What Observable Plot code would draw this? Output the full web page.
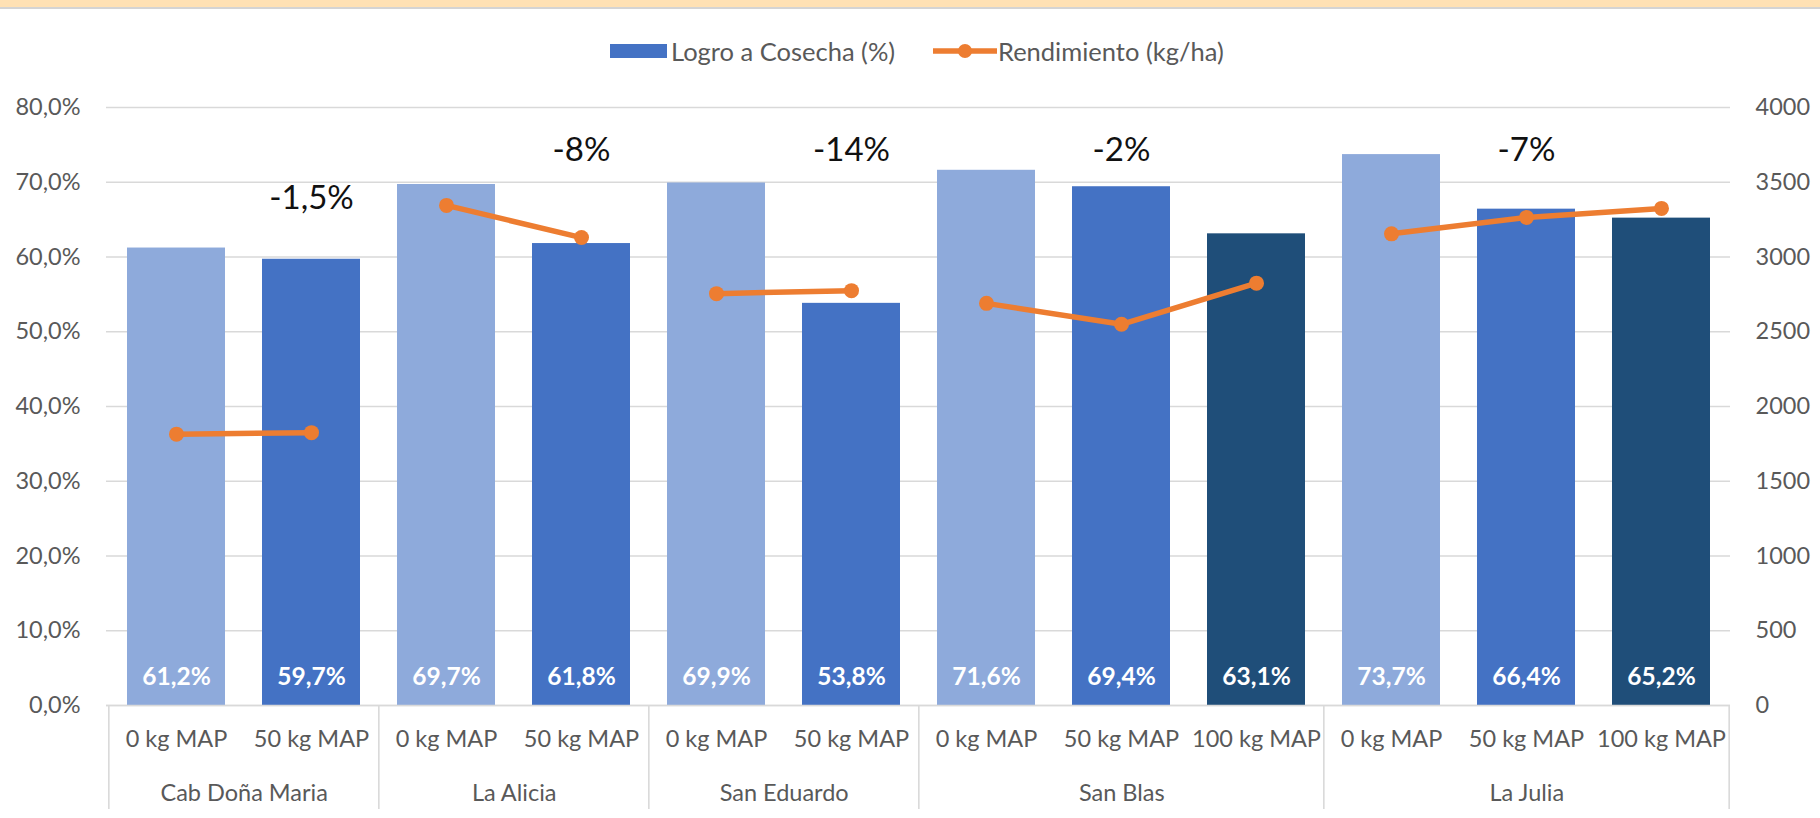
<!DOCTYPE html>
<html>
<head>
<meta charset="utf-8">
<script src="https://cdn.jsdelivr.net/npm/d3@7"></script>
<script src="https://cdn.jsdelivr.net/npm/@observablehq/plot@0.6"></script>
<style>
  body { margin: 0; background: #fff; font-family: Lato, sans-serif; width: 1820px; height: 818px; overflow: hidden; }
  #banner { height: 7px; background: #ffe1b4; border-bottom: 2px solid #d4d4d4; }
  #legend { position: relative; height: 61px; }
  .lg { position: absolute; font-size: 25.5px; color: #595959; line-height: 28px; white-space: nowrap; }
</style>
</head>
<body>
<div id="banner"></div>
<div id="legend">
  <div class="lg" style="left:610px; top:35px; width:57px; height:14px; background:#4472c4;"></div>
  <div class="lg" style="left:671px; top:28px;">Logro a Cosecha (%)</div>
  <svg class="lg" style="left:933px; top:30px;" width="64" height="24"><line x1="0" y1="12" x2="64" y2="12" stroke="#ed7d31" stroke-width="5.5"/><circle cx="32" cy="12" r="7" fill="#ed7d31"/></svg>
  <div class="lg" style="left:998px; top:28px;">Rendimiento (kg/ha)</div>
</div>
<div id="chart"></div>
<script>
// ---- data ----
const campo = ["Cab Doña Maria","Cab Doña Maria","La Alicia","La Alicia","San Eduardo","San Eduardo","San Blas","San Blas","San Blas","La Julia","La Julia","La Julia"];
const dosis = ["0 kg MAP","50 kg MAP","0 kg MAP","50 kg MAP","0 kg MAP","50 kg MAP","0 kg MAP","50 kg MAP","100 kg MAP","0 kg MAP","50 kg MAP","100 kg MAP"];
const logro = [61.2, 59.7, 69.7, 61.8, 69.9, 53.8, 71.6, 69.4, 63.1, 73.7, 66.4, 65.2];
const rendimiento = [1815, 1825, 3345, 3130, 2755, 2775, 2690, 2550, 2825, 3155, 3265, 3325];
const diferencias = ["-1,5%", "-8%", "-14%", "-2%", "-7%"];
const diferenciaPos = [1, 3, 5, 7, 10];            // category under each label
const diferenciaY = [67.8, 74.3, 74.3, 74.2, 74.2]; // height on the left (%) axis
const leftTicks = [0, 10, 20, 30, 40, 50, 60, 70, 80];
const rightTicks = [0, 500, 1000, 1500, 2000, 2500, 3000, 3500, 4000];
const dosisOrden = ["0 kg MAP", "50 kg MAP", "100 kg MAP"];
const colores = ["#8eaadb", "#4472c4", "#1f4e79"];

// ---- derived tables ----
const rows = logro.map((v, i) => ({i, campo: campo[i], dosis: dosis[i], logro: v, rend: rendimiento[i]}));
const ratio = rightTicks[rightTicks.length - 1] / leftTicks[leftTicks.length - 1];
const grupos = [];
campo.forEach((c, i) => {
  const g = grupos[grupos.length - 1];
  if (g && g.campo === c) g.n++; else grupos.push({campo: c, start: i, n: 1});
});
const notas = diferencias.map((t, k) => ({i: diferenciaPos[k], y: diferenciaY[k], t}));

// ---- layout ----
const W = 1820, H = 748, mT = 37, mB = 113, mL = 106, mR = 90;
const step = (W - mL - mR) / campo.length;
const frameH = H - mT - mB;
const fmtPct = v => v.toFixed(1).replace(".", ",") + "%";
const sepStyle = {stroke: "#d9d9d9", strokeWidth: 1.6, insetTop: frameH, insetBottom: -104};

const chart = Plot.plot({
  width: W, height: H,
  marginTop: mT, marginBottom: mB, marginLeft: mL, marginRight: mR,
  style: {fontFamily: "Lato, sans-serif", fontSize: "23.5px", color: "#595959", background: "white", overflow: "visible"},
  x: {type: "band", domain: d3.range(campo.length), paddingInner: 0.275, paddingOuter: 0.1375, axis: null},
  y: {domain: [0, 80], axis: null, label: null},
  color: {domain: dosisOrden, range: colores},
  marks: [
    Plot.gridY(leftTicks, {stroke: "#d9d9d9", strokeOpacity: 1, strokeWidth: 1.6}),
    Plot.axisY({anchor: "left", ticks: leftTicks, tickFormat: fmtPct, tickSize: 0, tickPadding: 26, label: null, fill: "#595959"}),
    Plot.axisY({anchor: "right", ticks: rightTicks.map(v => v / ratio), tickFormat: v => String(Math.round(v * ratio)), tickSize: 0, tickPadding: 25, label: null, fill: "#595959"}),
    Plot.barY(rows, {x: "i", y: "logro", fill: "dosis"}),
    Plot.ruleY([0], {stroke: "#d9d9d9", strokeWidth: 1.6}),
    Plot.ruleX(grupos, {x: "start", dx: -step / 2, ...sepStyle}),
    Plot.ruleX([campo.length - 1], {x: d => d, dx: step / 2, ...sepStyle}),
    Plot.line(rows, {x: "i", y: d => d.rend / ratio, z: "campo", stroke: "#ed7d31", strokeWidth: 5.5}),
    Plot.dot(rows, {x: "i", y: d => d.rend / ratio, r: 7.5, fill: "#ed7d31"}),
    Plot.text(rows, {x: "i", y: () => 0, dy: -28, text: d => fmtPct(d.logro), fill: "white", fontWeight: "bold", fontSize: 24.5}),
    Plot.text(rows, {x: "i", y: () => 0, dy: 34, text: "dosis", fill: "#595959", fontSize: 23.5}),
    ...grupos.map(g => Plot.text([g], {x: "start", y: () => 0, dy: 88, dx: (g.n - 1) / 2 * step, text: "campo", fill: "#595959", fontSize: 23.5})),
    Plot.text(notas, {x: "i", y: "y", text: "t", fill: "#111", fontSize: 33})
  ]
});
document.getElementById("chart").appendChild(chart);
</script>
</body>
</html>
